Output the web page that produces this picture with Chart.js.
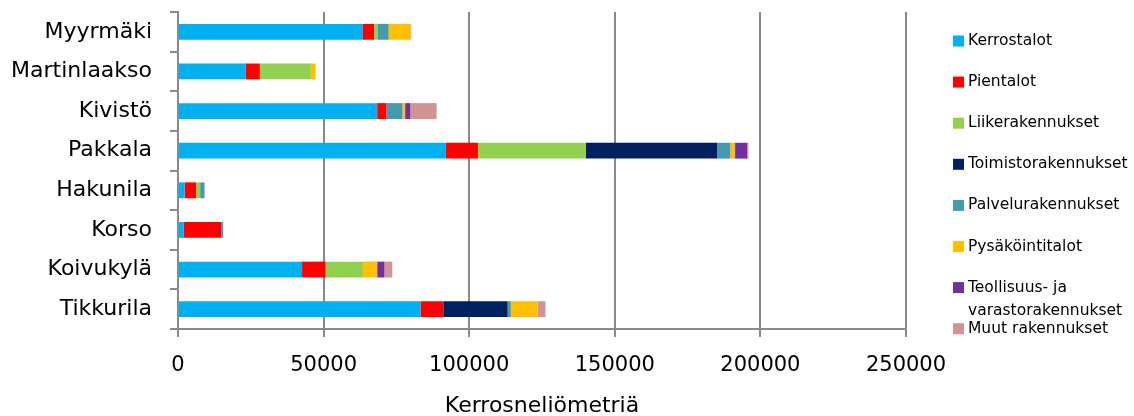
<!DOCTYPE html>
<html>
<head>
<meta charset="utf-8">
<script src="https://cdn.jsdelivr.net/npm/chart.js@4/dist/chart.umd.min.js"></script>
<style>
  html, body { margin: 0; padding: 0; background: #fff; }
  #wrap { width: 1134px; height: 416px; }
</style>
</head>
<body>
<div id="wrap"><canvas id="areaChart" width="1134" height="416"></canvas></div>
<script>
// --- DATA ---
const CATEGORIES = ['Myyrmäki', 'Martinlaakso', 'Kivistö', 'Pakkala', 'Hakunila', 'Korso', 'Koivukylä', 'Tikkurila'];

const KERROSTALOT = [63500, 23300, 68400, 92000, 2300, 2000, 42600, 83300];
const PIENTALOT   = [3800, 4800, 3200, 11000, 3900, 12800, 8100, 7800];
const LIIKE       = [1150, 17500, 0, 37100, 1400, 0, 12800, 0];
const TOIMISTO    = [0, 0, 0, 45000, 0, 0, 0, 22100];
const PALVELU     = [3900, 0, 5500, 4600, 1400, 700, 0, 1100];
const PYSAKOINTI  = [7450, 1700, 900, 1600, 0, 0, 4900, 9200];
const TEOLLISUUS  = [0, 0, 1800, 4100, 0, 0, 2500, 0];
const MUUT        = [300, 0, 9000, 500, 200, 0, 2700, 2700];

const SERIES_NAMES = ['Kerrostalot', 'Pientalot', 'Liikerakennukset', 'Toimistorakennukset',
    'Palvelurakennukset', 'Pysäköintitalot', 'Teollisuus- ja varastorakennukset', 'Muut rakennukset'];
const SERIES_VALUES = [KERROSTALOT, PIENTALOT, LIIKE, TOIMISTO, PALVELU, PYSAKOINTI, TEOLLISUUS, MUUT];

const X_MAX = 250000;
const X_STEP = 50000;
const X_TITLE = 'Kerrosneliömetriä';

// --- THEME ---
const COLORS = ['#00B0F0', '#FF0000', '#92D050', '#002060', '#4599B1', '#FFC000', '#7030A0', '#D39393'];
const AXIS_GRAY = '#8a8a8a';
const FONT = "'DejaVu Sans', sans-serif";

// legend drawn by hand on the right, same as the original
const sideLegend = {
    id: 'sideLegend',
    afterDraw(chart) {
        const ctx = chart.ctx;
        ctx.save();
        ctx.font = '15.5px ' + FONT;
        ctx.textBaseline = 'middle';
        chart.data.datasets.forEach((ds, i) => {
            const y = 41 + i * 41.1;
            ctx.fillStyle = ds.backgroundColor;
            ctx.fillRect(953, y - 5.5, 11, 11);
            ctx.fillStyle = '#000';
            // simple word wrap
            const words = ds.label.split(' ');
            let line = '';
            let ly = y;
            words.forEach(w => {
                const test = line ? line + ' ' + w : w;
                if (line && ctx.measureText(test).width > 162) {
                    ctx.fillText(line, 968, ly);
                    line = w;
                    ly += 23;
                } else {
                    line = test;
                }
            });
            ctx.fillText(line, 968, ly);
        });
        ctx.restore();
    }
};

const ctx = document.getElementById('areaChart').getContext('2d');

new Chart(ctx, {
    type: 'bar',
    data: {
        labels: CATEGORIES,
        datasets: SERIES_NAMES.map((name, i) => ({
            label: name,
            data: SERIES_VALUES[i],
            backgroundColor: COLORS[i],
            borderWidth: 0,
            barPercentage: 0.4,
            categoryPercentage: 1.0
        }))
    },
    options: {
        indexAxis: 'y',
        responsive: false,
        animation: false,
        layout: { padding: { top: 12, right: 228, left: 0, bottom: 0 } },
        scales: {
            x: {
                stacked: true,
                min: 0,
                max: X_MAX,
                ticks: {
                    stepSize: X_STEP,
                    color: '#000',
                    font: { size: 21, family: FONT },
                    padding: 16,
                    maxRotation: 0,
                    callback: v => String(v)
                },
                grid: { color: AXIS_GRAY, lineWidth: 2, tickLength: 8, drawTicks: true },
                border: { display: true, color: AXIS_GRAY, width: 2 },
                title: {
                    display: true,
                    text: X_TITLE,
                    color: '#000',
                    font: { size: 22, family: FONT },
                    padding: { top: 8, bottom: -3 }
                },
                afterFit: scale => { scale.height = 87; }
            },
            y: {
                stacked: true,
                ticks: {
                    color: '#000',
                    font: { size: 22, family: FONT },
                    padding: 18
                },
                grid: { color: AXIS_GRAY, lineWidth: 2, drawOnChartArea: false, drawTicks: true, tickLength: 8, offset: true },
                border: { display: true, color: AXIS_GRAY, width: 2 },
                afterFit: scale => {
                    scale.width = 178;
                    scale.paddingTop = 0;
                    scale.paddingBottom = 0;
                }
            }
        },
        plugins: {
            legend: { display: false },
            tooltip: { enabled: false }
        }
    },
    plugins: [sideLegend]
});
</script>
</body>
</html>
